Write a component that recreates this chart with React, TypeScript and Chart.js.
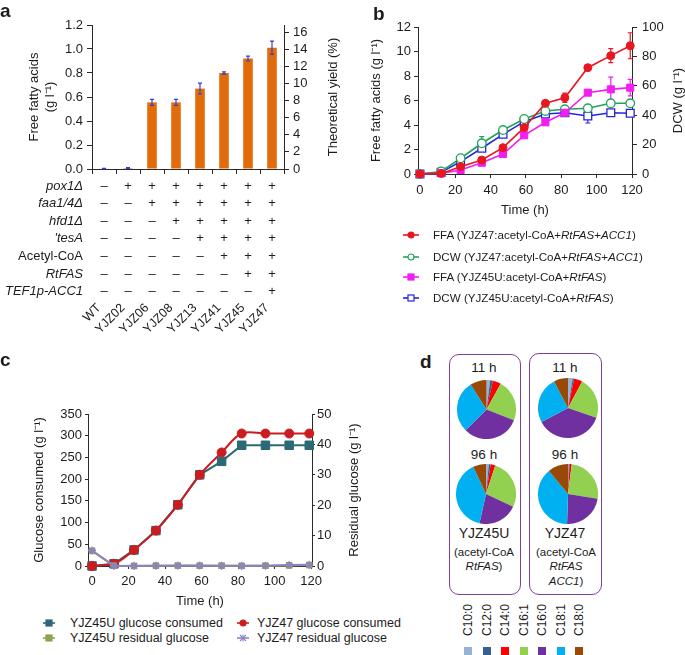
import React, { useEffect, useRef } from 'react';
import { Chart, registerables } from 'chart.js';

Chart.register(...registerables);

const FONT = "'Liberation Sans', Arial, Helvetica, sans-serif";
const INK = '#1c1c1c';
Chart.defaults.font.family = FONT;
Chart.defaults.color = INK;

// ---------------- Panel a data ----------------
const strainsA = ['WT', 'YJZ02', 'YJZ06', 'YJZ08', 'YJZ13', 'YJZ41', 'YJZ45', 'YJZ47'];
const ffaA = [0.003, 0.008, 0.555, 0.555, 0.67, 0.8, 0.92, 1.01];
const ffaAErr = [0.002, 0.004, 0.025, 0.025, 0.045, 0.01, 0.02, 0.055];
const ffaTicksA = [0, 0.2, 0.4, 0.6, 0.8, 1.0, 1.2];
const yieldTicksA = [0, 2, 4, 6, 8, 10, 12, 14, 16];
const yieldMaxA = 16.86;
const modLabels = ['pox1Δ', 'faa1/4Δ', 'hfd1Δ', "'tesA", 'Acetyl-CoA', 'RtFAS', 'TEF1p-ACC1'];
const modItalic = [true, true, true, true, false, true, true];
const modSigns = ['-+++++++', '--++++++', '---+++++', '----++++', '-----+++', '------++', '-------+'];

// ---------------- Panel b data ----------------
const timeB = [0, 12, 23, 35, 47, 59, 71, 82, 95, 108, 119];
const timeTicks = [0, 20, 40, 60, 80, 100, 120];
const ffaTicksB = [0, 2, 4, 6, 8, 10, 12];
const dcwTicksB = [0, 20, 40, 60, 80, 100];
const ffaYJZ47 = [0, 0.05, 0.6, 1.14, 2.15, 3.78, 5.77, 6.23, 8.68, 9.66, 10.47];
const ffaYJZ47Err = [0, 0, 0, 0.05, 0.05, 0.05, 0.15, 0.38, 0.1, 0.57, 1.06];
const dcwYJZ47 = [0, 1.7, 10.7, 20.9, 29.9, 37.4, 42.9, 44, 44.7, 48.1, 48.1];
const dcwYJZ47Err = [0, 0, 0.8, 4.5, 1.5, 1, 0.5, 0.5, 0.5, 0.8, 0.5];
const ffaYJZ45U = [0, 0.05, 0.33, 0.92, 1.63, 3.16, 4.22, 5.0, 6.64, 6.91, 7.05];
const ffaYJZ45UErr = [0, 0, 0, 0.05, 0.05, 0.05, 0.05, 0.1, 0.1, 1.0, 0.68];
const dcwYJZ45U = [0, 1.2, 8.4, 17.5, 27, 35.6, 40.8, 41.7, 39.5, 41.7, 41.3];
const dcwYJZ45UErr = [0, 0, 0.5, 0.5, 1, 0.5, 1.5, 2.5, 4.8, 0.5, 0.5];

// ---------------- Panel c data ----------------
const timeC = [0, 12, 23, 35, 47, 59, 71, 82, 95, 108, 119];
const glcTicksC = [0, 50, 100, 150, 200, 250, 300, 350];
const resTicksC = [0, 10, 20, 30, 40, 50];
const glcConsumed45U = [0, 5, 37, 81.5, 141, 210, 241, 278, 278, 278, 278];
const glcConsumed47 = [0, 5, 37, 81.5, 141, 210, 261.5, 305, 305, 305, 305];
const residual45U = [5.0, 0.1, 0, 0.1, 0.1, 0.1, 0.1, 0.05, 0.1, 0.2, 0.3];
const residual47 = [5.1, 0, 0.05, 0.1, 0.15, 0.15, 0.1, 0.05, 0.1, 0.3, 0.4];

// ---------------- Panel d data ----------------
const fattyAcids = ['C10:0', 'C12:0', 'C14:0', 'C16:1', 'C16:0', 'C18:1', 'C18:0'];
const faColors = ['#95B3D7', '#366092', '#FF0000', '#92D050', '#7030A0', '#00B0F0', '#984807'];
const yjz45u11h = [2, 1.5, 4.5, 23, 31.5, 28.5, 9];
const yjz45u96h = [1.5, 1, 2.5, 27, 21.5, 39.5, 7];
const yjz47_11h = [2.5, 0.8, 4.5, 22.5, 37, 25, 7.7];
const yjz47_96h = [0.4, 0.4, 1.2, 25.5, 23, 38.5, 11];

// colours
const ORANGE = '#E36C0A';
const ERR_BLUE = '#3C3CCB';
const RED_B = '#E8161E';
const GREEN_B = '#22A35A';
const PINK_B = '#F01EF0';
const BLUE_B = '#2626D9';
const TEAL_C = '#2B6A74';
const RED_C = '#C91D22';
const OLIVE_C = '#8CA44C';
const PURPLE_C = '#8E82C2';
const BOX = '#7B3F9E';

const axisLine = { display: true, color: '#2a2a2a', width: 1 };
function gridTicks(len: number, offset = false) {
  return { display: true, drawOnChartArea: false, drawTicks: true, tickLength: len, color: '#2a2a2a', lineWidth: 1, offset };
}
const fixTicks = (vals: number[]) => (s: any) => {
  s.ticks = vals.map((v) => ({ value: v }));
};

function errPlugin(errs: (number[] | null)[], cap: number, after: boolean, color?: string) {
  const draw = (chart: any) => {
    const ctx = chart.ctx;
    ctx.save();
    chart.data.datasets.forEach((ds: any, di: number) => {
      const e = errs[di];
      if (!e) return;
      const meta = chart.getDatasetMeta(di);
      const ys = chart.scales[meta.yAxisID];
      ctx.strokeStyle = color || ds.borderColor;
      ctx.lineWidth = 1.2;
      meta.data.forEach((el: any, i: number) => {
        const err = e[i];
        if (!err) return;
        const raw = ds.data[i];
        const v = typeof raw === 'number' ? raw : raw.y;
        const t = ys.getPixelForValue(v + err);
        const b = ys.getPixelForValue(Math.max(v - err, 0));
        ctx.beginPath();
        ctx.moveTo(el.x, t);
        ctx.lineTo(el.x, b);
        ctx.moveTo(el.x - cap, t);
        ctx.lineTo(el.x + cap, t);
        ctx.moveTo(el.x - cap, b);
        ctx.lineTo(el.x + cap, b);
        ctx.stroke();
      });
    });
    ctx.restore();
  };
  return after
    ? { id: 'errbars', afterDatasetsDraw: draw }
    : { id: 'errbars', beforeDatasetsDraw: draw };
}

function vTitle(scaleId: string, text: string, inset: number, size = 13) {
  return {
    id: 'vtitle_' + scaleId,
    afterDraw(chart: any) {
      const s = chart.scales[scaleId];
      const ctx = chart.ctx;
      ctx.save();
      ctx.translate(s.right - inset, (s.top + s.bottom) / 2);
      ctx.rotate(-Math.PI / 2);
      ctx.font = `${size}px ${FONT}`;
      ctx.fillStyle = INK;
      ctx.textAlign = 'center';
      ctx.textBaseline = 'middle';
      ctx.fillText(text, 0, 0);
      ctx.restore();
    },
  };
}

// modification table + rotated strain names under panel a
const tablePlugin = {
  id: 'modTable',
  afterDraw(chart: any) {
    const { ctx, chartArea } = chart;
    const xs = chart.scales.x;
    const labelRight = chart.scales.y.right - 9;
    ctx.save();
    ctx.fillStyle = INK;
    ctx.textBaseline = 'middle';
    modLabels.forEach((lab, r) => {
      const y = chartArea.bottom + 17 + r * 17.6;
      ctx.font = `${modItalic[r] ? 'italic ' : ''}13px ${FONT}`;
      ctx.textAlign = 'right';
      ctx.fillText(lab, labelRight, y);
      ctx.font = `13px ${FONT}`;
      ctx.textAlign = 'center';
      for (let i = 0; i < strainsA.length; i++) {
        ctx.fillText(modSigns[r][i] === '+' ? '+' : '–', xs.getPixelForValue(i), y);
      }
    });
    ctx.font = `12.5px ${FONT}`;
    ctx.textAlign = 'right';
    ctx.textBaseline = 'middle';
    strainsA.forEach((s, i) => {
      const px = xs.getPixelForValue(i);
      ctx.save();
      ctx.translate(px - 5, chartArea.bottom + 137);
      ctx.rotate(-Math.PI / 4);
      ctx.fillText(s, 0, 0);
      ctx.restore();
    });
    ctx.restore();
  },
};

const baseOpts = {
  responsive: false,
  maintainAspectRatio: false,
  animation: false,
  events: [] as string[],
  plugins: { legend: { display: false }, tooltip: { enabled: false } },
};

const makeA = () => ({
  type: 'bar',
  data: {
    labels: strainsA,
    datasets: [
      { data: ffaA, backgroundColor: ORANGE, borderWidth: 0, barPercentage: 0.4, categoryPercentage: 1, yAxisID: 'y' },
    ],
  },
  options: {
    ...baseOpts,
    layout: { padding: { top: 25, left: 0, right: 0, bottom: 0 } },
    scales: {
      x: {
        grid: gridTicks(5, true),
        border: axisLine,
        ticks: { display: false },
        afterFit: (s: any) => { s.height = 171; },
      },
      y: {
        position: 'left', min: 0, max: 1.2,
        afterBuildTicks: fixTicks(ffaTicksA),
        ticks: { autoSkip: false, padding: 4, font: { size: 13 }, color: INK, callback: (v: any) => Number(v).toFixed(1) },
        grid: gridTicks(5), border: axisLine,
        title: { display: true, text: ['Free fatty acids', '(g l⁻¹)'], font: { size: 13 }, color: INK, padding: { top: 27, bottom: 0 } },
        afterFit: (s: any) => { s.width = 92; },
      },
      y2: {
        position: 'right', min: 0, max: yieldMaxA,
        afterBuildTicks: fixTicks(yieldTicksA),
        ticks: { autoSkip: false, padding: 4, font: { size: 13 }, color: INK },
        grid: gridTicks(5), border: axisLine,
        afterFit: (s: any) => { s.width = 61; },
      },
    },
  },
  plugins: [errPlugin([ffaAErr], 2, true, ERR_BLUE), tablePlugin, vTitle('y2', 'Theoretical yield (%)', 12)],
});

const ptsB = (ys: number[]) => timeB.map((t, i) => ({ x: t, y: ys[i] }));
const makeB = () => ({
  type: 'line',
  data: {
    datasets: [
      { data: ptsB(ffaYJZ47), borderColor: RED_B, backgroundColor: RED_B, pointBackgroundColor: RED_B, pointBorderColor: RED_B, pointStyle: 'circle', pointRadius: 4, pointBorderWidth: 1, borderWidth: 1.6, yAxisID: 'y', clip: false },
      { data: ptsB(ffaYJZ45U), borderColor: PINK_B, backgroundColor: PINK_B, pointBackgroundColor: PINK_B, pointBorderColor: PINK_B, pointStyle: 'rect', pointRadius: 5, pointBorderWidth: 1, borderWidth: 1.6, yAxisID: 'y', clip: false },
      { data: ptsB(dcwYJZ47), borderColor: GREEN_B, backgroundColor: '#fff', pointBackgroundColor: '#fff', pointBorderColor: GREEN_B, pointStyle: 'circle', pointRadius: 4.3, pointBorderWidth: 1.3, borderWidth: 1.6, yAxisID: 'y2', clip: false },
      { data: ptsB(dcwYJZ45U), borderColor: BLUE_B, backgroundColor: '#fff', pointBackgroundColor: '#fff', pointBorderColor: BLUE_B, pointStyle: 'rect', pointRadius: 5.5, pointBorderWidth: 1.3, borderWidth: 1.6, yAxisID: 'y2', clip: false },
    ],
  },
  options: {
    ...baseOpts,
    layout: { padding: { top: 27, left: 0, right: 0, bottom: 0 } },
    scales: {
      x: {
        type: 'linear', min: -1.1, max: 120,
        afterBuildTicks: fixTicks(timeTicks),
        ticks: { autoSkip: false, padding: 5, font: { size: 13 }, color: INK },
        grid: gridTicks(4), border: axisLine,
        title: { display: true, text: 'Time (h)', font: { size: 13 }, color: INK, padding: { top: 0, bottom: 0 } },
        afterFit: (s: any) => { s.height = 44; },
      },
      y: {
        position: 'left', min: 0, max: 12,
        afterBuildTicks: fixTicks(ffaTicksB),
        ticks: { autoSkip: false, padding: 3, font: { size: 13 }, color: INK },
        grid: gridTicks(4), border: axisLine,
        title: { display: true, text: 'Free fatty acids (g l⁻¹)', font: { size: 13 }, color: INK, padding: { top: 29, bottom: 0 } },
        afterFit: (s: any) => { s.width = 78; },
      },
      y2: {
        position: 'right', min: 0, max: 100,
        afterBuildTicks: fixTicks(dcwTicksB),
        ticks: { autoSkip: false, padding: 5, font: { size: 13 }, color: INK },
        grid: gridTicks(5), border: axisLine,
        afterFit: (s: any) => { s.width = 53; },
      },
    },
  },
  plugins: [errPlugin([ffaYJZ47Err, ffaYJZ45UErr, dcwYJZ47Err, dcwYJZ45UErr], 2.5, false), vTitle('y2', 'DCW (g l⁻¹)', 7)],
});

const ptsC = (ys: number[]) => timeC.map((t, i) => ({ x: t, y: ys[i] }));
const makeC = () => ({
  type: 'line',
  data: {
    datasets: [
      { data: ptsC(residual47), borderColor: PURPLE_C, pointBorderColor: PURPLE_C, pointBackgroundColor: PURPLE_C, pointStyle: 'star', pointRadius: 4, pointBorderWidth: 1.3, borderWidth: 2, yAxisID: 'y2', clip: false },
      { data: ptsC(residual45U), borderColor: OLIVE_C, pointBorderColor: OLIVE_C, pointBackgroundColor: OLIVE_C, pointStyle: 'rect', pointRadius: 4, pointBorderWidth: 1, borderWidth: 2, yAxisID: 'y2', clip: false },
      { data: ptsC(glcConsumed47), borderColor: RED_C, pointBorderColor: RED_C, pointBackgroundColor: RED_C, pointStyle: 'circle', pointRadius: 4.5, pointBorderWidth: 1, borderWidth: 2, tension: 0.35, yAxisID: 'y', clip: false },
      { data: ptsC(glcConsumed45U), borderColor: TEAL_C, pointBorderColor: TEAL_C, pointBackgroundColor: TEAL_C, pointStyle: 'rect', pointRadius: 6, pointBorderWidth: 1, borderWidth: 2, yAxisID: 'y', clip: false },
    ],
  },
  options: {
    ...baseOpts,
    layout: { padding: { top: 54, left: 0, right: 0, bottom: 0 } },
    scales: {
      x: {
        type: 'linear', min: -2.2, max: 120.5,
        afterBuildTicks: fixTicks(timeTicks),
        ticks: { autoSkip: false, padding: 5, font: { size: 13 }, color: INK },
        grid: gridTicks(3), border: axisLine,
        title: { display: true, text: 'Time (h)', font: { size: 13 }, color: INK, padding: { top: 0, bottom: 0 } },
        afterFit: (s: any) => { s.height = 43; },
      },
      y: {
        position: 'left', min: 0, max: 350,
        afterBuildTicks: fixTicks(glcTicksC),
        ticks: { autoSkip: false, padding: 3, font: { size: 13 }, color: INK },
        grid: gridTicks(3), border: axisLine,
        title: { display: true, text: 'Glucose consumed (g l⁻¹)', font: { size: 13 }, color: INK, padding: { top: 32, bottom: 0 } },
        afterFit: (s: any) => { s.width = 88; },
      },
      y2: {
        position: 'right', min: 0, max: 50,
        afterBuildTicks: fixTicks(resTicksC),
        ticks: { autoSkip: false, padding: 2, font: { size: 13 }, color: INK },
        grid: gridTicks(3), border: axisLine,
        afterFit: (s: any) => { s.width = 88; },
      },
    },
  },
  plugins: [vTitle('y2', 'Residual glucose (g l⁻¹)', 46)],
});

const makePie = (vals: number[]) => () => ({
  type: 'pie',
  data: {
    labels: fattyAcids,
    datasets: [{ data: vals, backgroundColor: faColors, borderWidth: 0, hoverOffset: 0, offset: 0 }],
  },
  options: { ...baseOpts, layout: { padding: 0 } },
});

function ChartBox({ x, y, w, h, make }: { x: number; y: number; w: number; h: number; make: () => any }) {
  const ref = useRef<HTMLCanvasElement | null>(null);
  useEffect(() => {
    if (!ref.current) return;
    const chart = new Chart(ref.current, make());
    return () => chart.destroy();
  }, []);
  return (
    <canvas ref={ref} width={w} height={h} style={{ position: 'absolute', left: x, top: y, width: w, height: h }} />
  );
}

function Mark({ color, marker, filled, w }: { color: string; marker: string; filled: boolean; w: number }) {
  const c = w / 2;
  return (
    <svg width={w} height={10} style={{ display: 'block' }}>
      <line x1={0} y1={5} x2={w} y2={5} stroke={color} strokeWidth={1.6} />
      {marker === 'circle' && <circle cx={c} cy={5} r={3} fill={filled ? color : '#fff'} stroke={color} strokeWidth={1.2} />}
      {marker === 'square' && <rect x={c - 3} y={2} width={6} height={6} fill={filled ? color : '#fff'} stroke={color} strokeWidth={1.2} />}
      {marker === 'star' && (
        <g stroke={color} strokeWidth={1.1}>
          <line x1={c - 3} y1={2} x2={c + 3} y2={8} />
          <line x1={c - 3} y1={8} x2={c + 3} y2={2} />
          <line x1={c} y1={1.5} x2={c} y2={8.5} />
        </g>
      )}
    </svg>
  );
}

function LegendRow({ lx, lw, tx, y, color, marker, filled, size, children }: any) {
  return (
    <>
      <div style={{ position: 'absolute', left: lx, top: y - 5 }}>
        <Mark color={color} marker={marker} filled={filled} w={lw} />
      </div>
      <div style={{ position: 'absolute', left: tx, top: y, transform: 'translateY(-50%)', fontSize: size, lineHeight: 1.15, whiteSpace: 'nowrap' }}>
        {children}
      </div>
    </>
  );
}

function CText({ x, y, size, children }: any) {
  return (
    <div
      style={{
        position: 'absolute', left: x, top: y, transform: 'translate(-50%,-50%)', fontSize: size, lineHeight: 1.15,
        whiteSpace: 'nowrap', textAlign: 'center',
      }}
    >
      {children}
    </div>
  );
}

function PanelLetter({ x, y, ch }: { x: number; y: number; ch: string }) {
  return (
    <div style={{ position: 'absolute', left: x, top: y, fontSize: 19, lineHeight: '19px', fontWeight: 'bold' }}>{ch}</div>
  );
}

const pies = [
  { cx: 486, cy: 409, r: 29.5, vals: yjz45u11h },
  { cx: 486, cy: 493.5, r: 30, vals: yjz45u96h },
  { cx: 567.5, cy: 408, r: 30, vals: yjz47_11h },
  { cx: 567.5, cy: 494, r: 30, vals: yjz47_96h },
];

export default function App() {
  return (
    <div
      style={{
        position: 'absolute', left: 0, top: 0, width: 685, height: 655, background: '#fff', overflow: 'hidden',
        fontFamily: FONT, color: INK,
      }}
    >
      <ChartBox x={0} y={0} w={345} h={340} make={makeA} />
      <ChartBox x={340} y={0} w={345} h={218} make={makeB} />
      <ChartBox x={0} y={360} w={400} h={249} make={makeC} />

      <PanelLetter x={0} y={1} ch="a" />
      <PanelLetter x={373} y={4} ch="b" />
      <PanelLetter x={0} y={350} ch="c" />
      <PanelLetter x={420} y={352} ch="d" />

      {/* legend b */}
      <LegendRow lx={403} lw={16} tx={433} y={235} color={RED_B} marker="circle" filled size={11.6}>
        FFA (YJZ47:acetyl-CoA+<i>RtFAS</i>+<i>ACC1</i>)
      </LegendRow>
      <LegendRow lx={403} lw={16} tx={433} y={257} color={GREEN_B} marker="circle" filled={false} size={11.6}>
        DCW (YJZ47:acetyl-CoA+<i>RtFAS</i>+<i>ACC1</i>)
      </LegendRow>
      <LegendRow lx={403} lw={16} tx={433} y={277} color={PINK_B} marker="square" filled size={11.6}>
        FFA (YJZ45U:acetyl-CoA+<i>RtFAS</i>)
      </LegendRow>
      <LegendRow lx={403} lw={16} tx={433} y={298} color={BLUE_B} marker="square" filled={false} size={11.6}>
        DCW (YJZ45U:acetyl-CoA+<i>RtFAS</i>)
      </LegendRow>

      {/* legend c */}
      <LegendRow lx={43} lw={12} tx={70} y={623} color={TEAL_C} marker="square" filled size={12.5}>
        YJZ45U glucose consumed
      </LegendRow>
      <LegendRow lx={237} lw={12} tx={257} y={623} color={RED_C} marker="circle" filled size={12.5}>
        YJZ47 glucose consumed
      </LegendRow>
      <LegendRow lx={43} lw={12} tx={70} y={638} color={OLIVE_C} marker="square" filled size={12.5}>
        YJZ45U residual glucose
      </LegendRow>
      <LegendRow lx={237} lw={12} tx={257} y={638} color={PURPLE_C} marker="star" filled size={12.5}>
        YJZ47 residual glucose
      </LegendRow>

      {/* panel d boxes */}
      <div style={{ position: 'absolute', left: 449, top: 354, width: 72, height: 241, border: `1.5px solid ${BOX}`, borderRadius: 10, boxSizing: 'border-box' }} />
      <div style={{ position: 'absolute', left: 529, top: 353, width: 73, height: 242, border: `1.5px solid ${BOX}`, borderRadius: 10, boxSizing: 'border-box' }} />
      {pies.map((p, i) => (
        <ChartBox key={i} x={p.cx - p.r} y={p.cy - p.r} w={p.r * 2} h={p.r * 2} make={makePie(p.vals)} />
      ))}
      <CText x={484} y={368} size={13.5}>11 h</CText>
      <CText x={565} y={368} size={13.5}>11 h</CText>
      <CText x={484} y={455} size={13.5}>96 h</CText>
      <CText x={565} y={455} size={13.5}>96 h</CText>
      <CText x={484} y={533} size={14}>YJZ45U</CText>
      <CText x={565} y={533} size={14}>YJZ47</CText>
      <CText x={484} y={553} size={11.5}>(acetyl-CoA</CText>
      <CText x={484} y={567} size={11.5}><i>RtFAS</i>)</CText>
      <CText x={566} y={553} size={11.5}>(acetyl-CoA</CText>
      <CText x={566} y={567} size={11.5}><i>RtFAS</i></CText>
      <CText x={566} y={582} size={11.5}><i>ACC1</i>)</CText>

      {fattyAcids.map((fa, i) => {
        const x = 468.3 + i * 18.5;
        return (
          <React.Fragment key={fa}>
            <div
              style={{
                position: 'absolute', left: x - 25, top: 620 - 7, width: 50, height: 14, fontSize: 12, lineHeight: '14px',
                textAlign: 'center', transform: 'rotate(-90deg)', whiteSpace: 'nowrap',
              }}
            >
              {fa}
            </div>
            <div style={{ position: 'absolute', left: x - 4, top: 647, width: 8, height: 8, background: faColors[i] }} />
          </React.Fragment>
        );
      })}
    </div>
  );
}
